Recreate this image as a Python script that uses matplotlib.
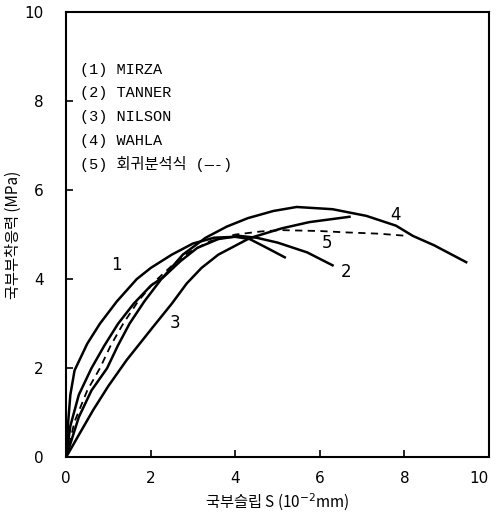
import matplotlib
matplotlib.use('Agg')
import matplotlib.pyplot as plt

plt.rcParams['font.family'] = ['DejaVu Sans', 'Noto Sans CJK KR']

# 곡선 데이터
mirza_x = [0, 0.05, 0.1, 0.2, 0.5, 0.8, 1.2, 1.67, 2.0, 2.5, 3.0, 3.5, 4.0, 4.34, 4.75, 5.17]
mirza_y = [0, 0.8, 1.4, 1.95, 2.55, 3.0, 3.5, 4.0, 4.25, 4.55, 4.8, 4.93, 4.95, 4.9, 4.7, 4.49]

tanner_x = [0, 0.3, 0.6, 0.97, 1.22, 1.5, 1.85, 2.25, 2.7, 3.1, 3.6, 4.1, 4.5, 5.0, 5.7, 6.3]
tanner_y = [0, 0.9, 1.5, 2.0, 2.5, 3.0, 3.5, 4.0, 4.4, 4.7, 4.9, 4.97, 4.93, 4.82, 4.6, 4.31]

nilson_x = [0, 0.3, 0.64, 1.0, 1.43, 2.05, 2.5, 2.85, 3.2, 3.6, 4.34, 5.1, 5.75, 6.7]
nilson_y = [0, 0.5, 1.06, 1.6, 2.18, 2.92, 3.45, 3.9, 4.25, 4.55, 4.92, 5.14, 5.28, 5.4]

wahla_x = [0, 0.1, 0.3, 0.6, 0.9, 1.23, 1.6, 2.0, 2.3, 2.76, 3.3, 3.8, 4.3, 4.9, 5.45,
           6.3, 7.1, 7.8, 8.2, 8.7, 9.46]
wahla_y = [0, 0.7, 1.4, 2.0, 2.5, 3.0, 3.45, 3.85, 4.05, 4.55, 4.93, 5.18, 5.37, 5.53, 5.62,
           5.57, 5.42, 5.2, 4.97, 4.76, 4.38]

reg_x = [0, 0.2, 0.5, 0.8, 1.05, 1.35, 1.7, 2.1, 2.5, 2.9, 3.4, 4.0, 4.6, 5.1, 6.0, 6.6, 7.4, 8.07]
reg_y = [0, 0.8, 1.5, 2.0, 2.5, 3.0, 3.5, 3.95, 4.3, 4.6, 4.85, 5.0, 5.07, 5.1, 5.08, 5.05, 5.02, 4.97]

legend_lines = ['(1) MIRZA', '(2) TANNER', '(3) NILSON', '(4) WAHLA', '(5) 회귀분석식 (—-)']
curve_labels = ['1', '2', '3', '4', '5']
label_pos = [(1.18, 4.31), (6.63, 4.16), (2.57, 3.01), (7.78, 5.44), (6.18, 4.81)]

fig = plt.figure(figsize=(4.97, 5.19), dpi=100)
ax = fig.add_axes([0.133, 0.119, 0.851, 0.858])

lw = 1.8
ax.plot(mirza_x, mirza_y, '-k', lw=lw)
ax.plot(tanner_x, tanner_y, '-k', lw=lw)
ax.plot(nilson_x, nilson_y, '-k', lw=lw)
ax.plot(wahla_x, wahla_y, '-k', lw=lw)
ax.plot(reg_x, reg_y, '--k', lw=1.3, dashes=(4, 3))

for t, (x, y) in zip(curve_labels, label_pos):
    ax.text(x, y, t, fontsize=12, ha='center', va='center')

# 범례 (텍스트)
mono = ['Liberation Mono', 'Noto Sans CJK KR']
for i, s in enumerate(legend_lines):
    ax.text(0.33, 8.7 - i * 0.53, s, fontsize=11, family=mono, va='center')

ax.set_xlim(0, 10)
ax.set_ylim(0, 10)
ax.set_xticks([0, 2, 4, 6, 8, 10])
ax.set_yticks([0, 2, 4, 6, 8, 10])
ax.tick_params(direction='in', length=5, width=1.2, labelsize=11)
ax.tick_params(axis='x', pad=10)
ax.tick_params(axis='y', pad=16)
ax.get_xticklabels()[-1].set_horizontalalignment('right')
for s in ax.spines.values():
    s.set_linewidth(1.5)

ax.set_xlabel('국부슬립 S (10$^{-2}$mm)', fontsize=11, family=['Noto Sans CJK KR', 'DejaVu Sans'])
ax.set_ylabel('국부부착응력 (MPa)', fontsize=11, family=['Noto Sans CJK KR', 'DejaVu Sans'])
ax.yaxis.set_label_coords(-0.105, 0.5)

fig.savefig('out.png', dpi=100)
